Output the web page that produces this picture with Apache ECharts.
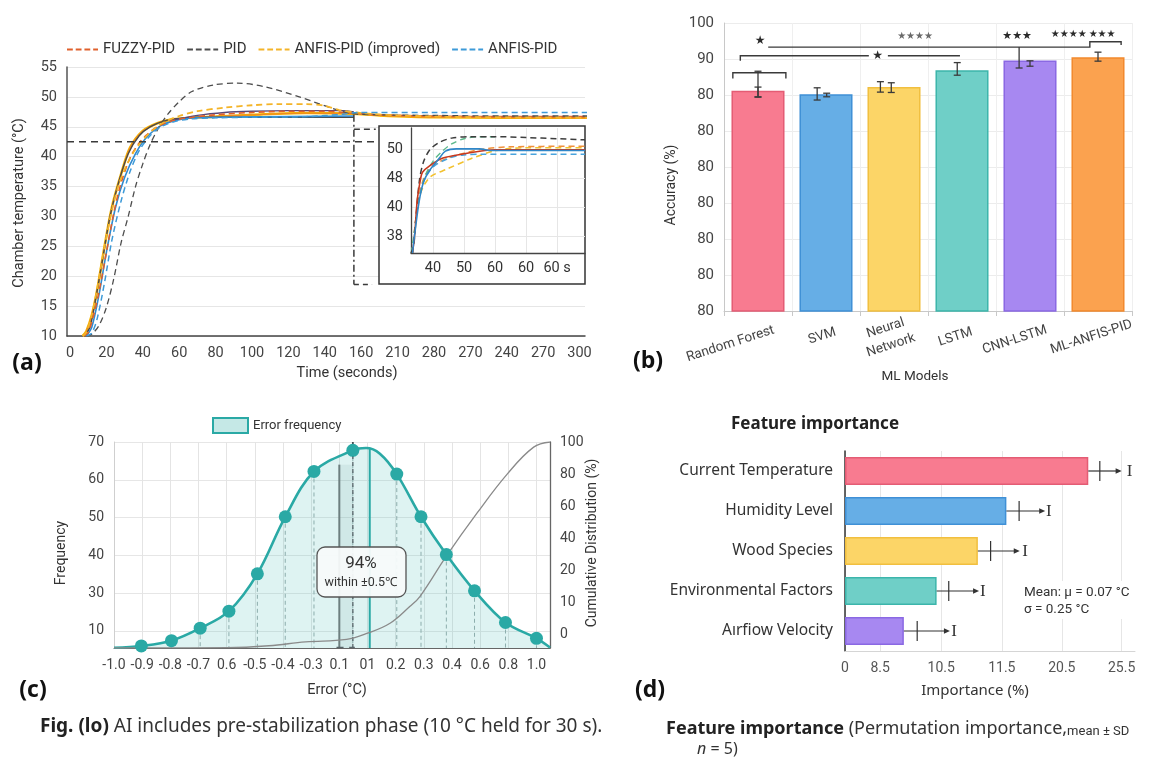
<!DOCTYPE html>
<html>
<head>
<meta charset="utf-8">
<script src="https://cdn.jsdelivr.net/npm/echarts@6/dist/echarts.min.js"></script>
<style>
  html, body { margin: 0; padding: 0; background: #fff; }
  #main { width: 1154px; height: 763px; }
</style>
</head>
<body>
<div id="main"></div>
<script>
// ---------- (a) step response ----------
const timeLabels = ['0','20','40','60','80','100','120','140','160','210','280','270','240','270','300'];
const fuzzyT = [8, 10, 13, 16, 20, 24, 28, 33, 38, 42, 48, 55, 65, 80, 100, 120, 140, 155, 170, 200, 240, 288];
const fuzzyV = [10, 10.6, 13.5, 17.5, 24, 30.5, 35.5, 39.8, 42.3, 43.6, 45, 45.9, 46.5, 47.0, 47.4, 47.6, 47.6, 47.3, 47.0, 46.8, 46.7, 46.7];
const pidT = [9, 12, 16, 20, 24, 28, 32, 36, 40, 44, 49, 54, 60, 67, 79, 92, 107, 126, 144, 155, 170, 200, 240, 288];
const pidV = [10, 10.3, 11.8, 14.8, 19.5, 25.5, 30, 35, 38.8, 42, 45, 47.2, 49.2, 50.9, 52, 52.3, 51.7, 50, 48.1, 47.2, 47.0, 46.9, 46.8, 46.8];
const anfisImpT = [7, 9, 12, 15, 19, 23, 27, 31, 35, 40, 46, 52, 60, 70, 85, 100, 115, 130, 140, 148, 160, 180, 220, 288];
const anfisImpV = [10, 10.6, 13.5, 18, 25, 31, 35.5, 38.5, 40.8, 42.8, 44.6, 45.8, 46.8, 47.6, 48.2, 48.6, 48.8, 48.8, 48.5, 47.8, 47.3, 46.9, 46.6, 46.5];
const anfisT = [9, 12, 15, 19, 23, 28, 33, 38, 44, 50, 58, 66, 80, 100, 130, 150, 158, 200, 288];
const anfisV = [10, 10.5, 13, 19, 26, 32.5, 37.5, 41, 43.5, 45, 45.9, 46.3, 46.5, 46.6, 46.7, 47.1, 47.4, 47.4, 47.4];
const goldT = [7, 9, 12, 15, 19, 23, 28, 33, 40, 48, 56, 66, 80, 100, 130, 155, 170, 200, 288];
const goldV = [10, 10.8, 13.5, 17.8, 25, 31.5, 37, 41.5, 44.3, 45.6, 46.2, 46.5, 46.7, 47.0, 47.3, 47.2, 46.9, 46.6, 46.5];
const darkT = [8, 11, 14, 18, 22, 27, 32, 38, 44, 52, 60, 70, 156];
const darkV = [10, 11.5, 16, 23, 30, 36, 40.5, 43.5, 45, 46, 46.4, 46.6, 46.6];
const blueT = [9, 12, 16, 20, 25, 30, 36, 42, 50, 60, 70, 90, 120, 156];
const blueV = [10, 11.5, 17, 24, 31.5, 36.5, 40.5, 43.2, 45.2, 46.2, 46.5, 46.6, 46.7, 46.8];
const purpleT = [55, 70, 85, 100, 120, 150, 156];
const purpleV = [46.0, 46.9, 47.4, 47.6, 47.7, 47.7, 47.5];
const setpoint = 42.5;
const zoomT = 156;

// inset (zoomed settling)
const insetXLabels = ['40', '50', '60', '60', '60 s'];
const insetYLabels = ['38', '40', '48', '50'];
const inPidX = [-0.71, -0.62, -0.55, -0.43, -0.3, -0.1, 0.2, 0.6, 1.2, 2.0, 3.0, 4.0, 4.9];
const inPidY = [-0.57, -0.3, 0.67, 2.0, 2.6, 3.0, 3.25, 3.4, 3.45, 3.45, 3.42, 3.38, 3.34];
const inGreenX = [-0.7, -0.6, -0.45, -0.25, 0, 0.3, 0.6, 1.0, 1.5, 2.0];
const inGreenY = [-0.57, 0.2, 1.3, 2.1, 2.6, 2.95, 3.2, 3.38, 3.45, 3.45];
const inRedX = [-0.66, -0.58, -0.51, -0.4, -0.34, -0.1, 0.32, 0.96, 2.0, 4.9];
const inRedY = [-0.57, 0.2, 1.24, 2.0, 2.22, 2.45, 2.71, 2.85, 3.0, 3.0];
const inBlueX = [-0.66, -0.6, -0.45, -0.3, -0.1, 0.2, 0.4, 0.75, 1.5, 1.9, 4.9];
const inBlueY = [-0.57, 0.0, 1.2, 1.9, 2.3, 2.7, 2.95, 3.03, 3.03, 2.97, 2.97];
const inYellowX = [-0.66, -0.55, -0.4, -0.1, 0.45, 1.2, 2.03, 3.0, 4.9];
const inYellowY = [-0.57, 0.6, 1.5, 2.05, 2.33, 2.68, 2.97, 3.07, 3.07];
const inBlueDashX = [-0.66, -0.5, -0.3, 0, 0.5, 1.0, 1.6, 4.9];
const inBlueDashY = [-0.57, 1.0, 1.9, 2.4, 2.7, 2.82, 2.84, 2.84];
const inOrangeX = [-0.66, -0.5, -0.3, 0, 0.5, 1.0, 1.6, 2.5, 4.9];
const inOrangeY = [-0.57, 1.1, 2.0, 2.45, 2.72, 2.88, 3.02, 3.1, 3.12];

// ---------- (b) model accuracy ----------
const models = ['Random Forest', 'SVM', 'Neural\nNetwork', 'LSTM', 'CNN-LSTM', 'ML-ANFIS-PID'];
const accuracy = [81.2, 80.2, 82.2, 86.9, 89.6, 90.5];
const accTickLabels = ['80', '80', '80', '80', '80', '80', '80', '90', '100'];
// [x position, low, high, top cap]
const accErr = [[0, 79.4, 86.6, 1], [0, 79.5, 82.2, 1], [0.87, 78.6, 82.0, 1], [1.01, 79.5, 80.5, 1],
  [1.8, 80.8, 83.7, 1], [1.96, 80.7, 83.4, 1], [2.93, 85.5, 89.0, 1], [3.84, 87.5, 93.3, 0],
  [4.0, 88.0, 89.5, 1], [5.0, 89.4, 91.9, 1]];
const sigBrackets = [
  [[-0.37, 84.6], [-0.37, 86.2], [0.41, 86.2], [0.41, 84.6]],
  [[-0.26, 89.5], [-0.26, 90.9], [1.63, 90.9]],
  [[1.91, 90.9], [2.97, 90.9]],
  [[0.15, 93.3], [4.88, 93.3], [4.88, 94.8], [5.34, 94.8], [5.34, 93.9]]
];
const sigStars = [[0.03, 95.0, '★', 12], [1.76, 90.9, '★', 12], [2.31, 96.3, '★★★★', 10],
  [3.81, 96.3, '★★★', 11], [4.57, 96.8, '★★★★', 10], [5.06, 96.8, '★★★', 10]];

// ---------- (c) error distribution ----------
const errLabels = ['-1.0','-0.9','-0.8','-0.7','0.6','-0.5','-0.4','-0.3','0.1','01','0.2','0.3','0.4','0.6','0.8','1.0'];
const freqLabels = ['10', '30', '40', '50', '60', '70'];
const cumLabels = ['0', '10', '20', '40', '60', '80', '100'];
const markerX = [0.97, 2.04, 3.06, 4.08, 5.09, 6.08, 7.1, 8.48, 10.04, 10.9, 11.8, 12.8, 13.9, 15.0];
const markerY = [16.0, 17.4, 20.7, 25.2, 35.1, 50.2, 62.2, 67.8, 61.5, 50.2, 40.2, 30.6, 22.2, 18.0];
const curveX = [0, 0.97, 2.04, 3.06, 4.08, 5.09, 6.08, 7.1, 8.48, 8.95, 9.44, 10.04, 10.9, 11.8, 12.8, 13.9, 15.0, 15.48];
const curveY = [15.5, 16.0, 17.4, 20.7, 25.2, 35.1, 50.2, 62.2, 67.8, 68.4, 66.9, 61.5, 50.2, 40.2, 30.6, 22.2, 18.0, 15.6];
const cumX = [0, 4, 5.5, 6.8, 8.26, 9.0, 9.8, 10.5, 10.86, 11.8, 12.9, 13.96, 14.9, 15.48];
const cumY = [-0.41, -0.4, -0.34, -0.22, -0.14, 0.05, 0.36, 0.88, 1.19, 2.45, 3.8, 5.0, 5.84, 6.0];

// ---------- (d) feature importance ----------
const features = ['Current Temperature', 'Humidity Level', 'Wood Species', 'Environmental Factors', 'Aırfiow Velocity'];
const importance = [4.01, 2.66, 2.19, 1.51, 0.97];
const impTick = [4.2, 2.87, 2.40, 1.71, 1.19];
const impArrow = [4.56, 3.30, 2.88, 2.21, 1.73];
const impCap = [4.69, 3.36, 2.97, 2.27, 1.80];
const impTickPos = [0, 0.58, 1.585, 2.585, 3.574, 4.56];
const impTickLabels = ['0', '8.5', '10.5', '11.5', '20.5', '25.5'];

const fills = ['#f87b90', '#66aee6', '#fcd567', '#6fcfc7', '#a788f1', '#fba24f'];
const borders = ['#e45c74', '#3f90d6', '#f1bf3f', '#3cb5ab', '#8a68e3', '#f2892d'];
// how far each rotated model label sits left of its bar (padding, px)
const modelLabelPad = [58, 8, 12, 14, 32, 14];

const FONT = 'Roboto, "Noto Sans", sans-serif';
const FONT2 = '"Noto Sans", "Open Sans", sans-serif';
const DASH_ICON = 'path://M0,0h6v2h-6zM9,0h6v2h-6zM18,0h6v2h-6zM27,0h5v2h-5z';

const zip = (xs, ys) => xs.map((x, i) => [x, ys[i]]);

const myChart = echarts.init(document.getElementById('main'));

const series = [];

function curve(name, t, v, color, dashed, width, xi, yi, z) {
  series.push({
    name: name, type: 'line', xAxisIndex: xi, yAxisIndex: yi, data: zip(t, v),
    smooth: 0.3, symbol: 'none', z: z || 2, silent: true,
    itemStyle: { color: color },
    lineStyle: { color: color, width: width, type: dashed ? [6, 4] : 'solid' }
  });
}

// main response curves
curve('gold', goldT, goldV, '#f5b800', false, 2.6, 0, 0);
curve('orangeSolid', goldT, goldV, '#f08a20', false, 1.2, 0, 0);
curve('dark', darkT, darkV, '#4a4a4a', false, 1.4, 0, 0);
curve('blueSolid', blueT, blueV, '#2f8ad0', false, 1.6, 0, 0);
curve('purple', purpleT, purpleV, '#5b4a78', false, 1.4, 0, 0);
curve('FUZZY-PID', fuzzyT, fuzzyV, '#e0602c', true, 1.6, 0, 0, 3);
curve('PID', pidT, pidV, '#4d4d4d', true, 1.3, 0, 0, 3);
curve('ANFIS-PID (improved)', anfisImpT, anfisImpV, '#f4b428', true, 1.8, 0, 0, 3);
curve('ANFIS-PID', anfisT, anfisV, '#3d9ad8', true, 1.5, 0, 0, 3);

// guide lines towards the inset
const guide = (pts, type) => series.push({
  type: 'line', xAxisIndex: 0, yAxisIndex: 0, data: pts, symbol: 'none', silent: true, z: 3,
  lineStyle: { color: '#3a3a3a', width: 1.5, type: type }
});
guide([[-1.65, setpoint], [169, setpoint]], [7, 5]);
guide([[zoomT, 47], [zoomT, 18.6]], [7, 3, 2, 3]);
guide([[zoomT, 44.6], [168, 44.6]], [6, 4]);
guide([[zoomT, 18.6], [166, 18.6]], [5, 4]);

// inset curves
curve('in1', inYellowX, inYellowY, '#f2c12e', true, 1.6, 1, 1, 5);
curve('in2', inOrangeX, inOrangeY, '#f0903a', true, 1.5, 1, 1, 5);
curve('in3', inBlueDashX, inBlueDashY, '#4aa3dc', true, 1.5, 1, 1, 5);
curve('in4', inGreenX, inGreenY, '#5cb88a', true, 1.4, 1, 1, 5);
curve('in5', inPidX, inPidY, '#3d3d3d', true, 1.5, 1, 1, 5);
curve('in6', inRedX, inRedY, '#c8381e', false, 1.6, 1, 1, 5);
curve('in7', inBlueX, inBlueY, '#2f86c8', false, 1.6, 1, 1, 5);

// ---------- (b) ----------
series.push({
  type: 'bar', xAxisIndex: 2, yAxisIndex: 2, barWidth: '78%', silent: true,
  data: accuracy.map((v, i) => ({ value: v, itemStyle: { color: fills[i], borderColor: borders[i], borderWidth: 1.5 } }))
});
series.push({
  type: 'custom', xAxisIndex: 3, yAxisIndex: 2, z: 5, silent: true,
  data: accErr,
  renderItem: (p, api) => {
    const a = api.coord([api.value(0), api.value(1)]);
    const b = api.coord([api.value(0), api.value(2)]);
    const st = { stroke: '#3a3a3a', lineWidth: 1.3 };
    const ch = [
      { type: 'line', shape: { x1: a[0], y1: a[1], x2: b[0], y2: b[1] }, style: st },
      { type: 'line', shape: { x1: a[0] - 3.5, y1: a[1], x2: a[0] + 3.5, y2: a[1] }, style: st }
    ];
    if (api.value(3)) ch.push({ type: 'line', shape: { x1: b[0] - 3.5, y1: b[1], x2: b[0] + 3.5, y2: b[1] }, style: st });
    return { type: 'group', children: ch };
  }
});
series.push({
  type: 'custom', xAxisIndex: 3, yAxisIndex: 2, z: 5, silent: true,
  data: sigBrackets.map(b => b[0]),
  renderItem: (p, api) => ({
    type: 'polyline',
    shape: { points: sigBrackets[p.dataIndex].map(pt => api.coord(pt)) },
    style: { stroke: '#3a3a3a', lineWidth: 1.4, fill: 'none' }
  })
});
series.push({
  type: 'custom', xAxisIndex: 3, yAxisIndex: 2, z: 6, silent: true,
  data: sigStars.map(s => [s[0], s[1]]),
  renderItem: (p, api) => {
    const s = sigStars[p.dataIndex];
    const c = api.coord([s[0], s[1]]);
    return {
      type: 'text', x: c[0], y: c[1],
      style: { text: s[2], fontSize: s[3], fontFamily: '"DejaVu Sans"', fill: p.dataIndex === 2 ? '#6a6a6a' : '#2a2a2a', align: 'center', verticalAlign: 'middle' }
    };
  }
});

// ---------- (c) ----------
series.push({
  name: 'Error frequency', type: 'line', xAxisIndex: 4, yAxisIndex: 3, data: zip(curveX, curveY),
  smooth: 0.35, symbol: 'none', z: 3, silent: true,
  itemStyle: { color: '#2aa9a5' },
  lineStyle: { color: '#2aa9a5', width: 2.6 },
  areaStyle: { color: 'rgba(86,194,189,0.28)' }
});
series.push({
  type: 'custom', xAxisIndex: 4, yAxisIndex: 3, z: 2, silent: true,
  data: zip(markerX, markerY),
  renderItem: (p, api) => {
    const a = api.coord([api.value(0), api.value(1)]);
    const b = api.coord([api.value(0), 15.45]);
    return { type: 'line', shape: { x1: a[0], y1: a[1], x2: b[0], y2: b[1] }, style: { stroke: '#9aa9a9', lineWidth: 1, lineDash: [4, 3] } };
  }
});
series.push({
  type: 'custom', xAxisIndex: 4, yAxisIndex: 3, z: 2, silent: true,
  data: [[8.0, 64]],
  renderItem: (p, api) => {
    const a = api.coord([8.0, 64]);
    const b = api.coord([8.48, 15.45]);
    return { type: 'rect', shape: { x: a[0], y: a[1], width: b[0] - a[0], height: b[1] - a[1] }, style: { fill: 'rgba(40,90,90,0.08)' } };
  }
});
const vline = (pts, color, width, type) => series.push({
  type: 'line', xAxisIndex: 4, yAxisIndex: 3, data: pts, symbol: 'none', silent: true, z: 4,
  lineStyle: { color: color, width: width, type: type }
});
vline([[8.0, 15.45], [8.0, 64]], '#6d7f7f', 2, 'solid');
vline([[8.48, 15.45], [8.48, 66]], '#58656a', 1.3, [4, 3]);
vline([[8.48, 66], [8.48, 70]], '#3f4a4e', 1.8, 'solid');
vline([[9.08, 15.45], [9.08, 68.2]], '#2aa9a5', 2, 'solid');
vline([[7.9, 15.6], [8.15, 15.6]], '#58656a', 1.3, 'solid');
vline([[8.35, 15.6], [8.55, 15.6]], '#58656a', 1.3, 'solid');
series.push({
  type: 'line', xAxisIndex: 4, yAxisIndex: 4, data: zip(cumX, cumY), smooth: 0.4, symbol: 'none', z: 4, silent: true,
  lineStyle: { color: '#8a8a8a', width: 1.3 }
});
series.push({
  type: 'scatter', xAxisIndex: 4, yAxisIndex: 3, data: zip(markerX, markerY), symbolSize: 13, z: 5, silent: true,
  itemStyle: { color: '#2aa9a5', opacity: 1 }
});

// ---------- (d) ----------
series.push({
  type: 'bar', xAxisIndex: 5, yAxisIndex: 5, barWidth: 28, silent: true,
  data: importance.map((v, i) => ({ value: v, itemStyle: { color: fills[i], borderColor: borders[i], borderWidth: 1.5 } }))
});
series.push({
  type: 'custom', xAxisIndex: 5, yAxisIndex: 5, z: 5, silent: true,
  data: importance.map((v, i) => [v, i, impTick[i], impArrow[i], impCap[i]]),
  renderItem: (p, api) => {
    const s = api.coord([api.value(0), api.value(1)]);
    const y = s[1];
    const xt = api.coord([api.value(2), api.value(1)])[0];
    const xa = api.coord([api.value(3), api.value(1)])[0];
    const xc = api.coord([api.value(4), api.value(1)])[0];
    const st = { stroke: '#333', lineWidth: 1.2 };
    return {
      type: 'group', children: [
        { type: 'line', shape: { x1: s[0], y1: y, x2: xa - 3, y2: y }, style: st },
        { type: 'line', shape: { x1: xt, y1: y - 10, x2: xt, y2: y + 10 }, style: st },
        { type: 'polygon', shape: { points: [[xa, y], [xa - 6, y - 2.8], [xa - 6, y + 2.8]] }, style: { fill: '#333' } },
        { type: 'text', x: xc, y: y + 1, style: { text: 'I', fontSize: 17, fontFamily: '"Liberation Serif", "DejaVu Serif", serif', fill: '#333', align: 'center', verticalAlign: 'middle' } }
      ]
    };
  }
});

const txt = (x, y, text, o) => Object.assign({
  type: 'text', x: x, y: y, z: 20,
  style: Object.assign({ text: text, fill: '#333', fontSize: 14, fontFamily: FONT, align: 'center', verticalAlign: 'middle' }, o || {})
});
const vtxt = (x, y, text, o) => Object.assign(txt(x, y, text, o), { rotation: Math.PI / 2 });
const tag = (x, y, t) => txt(x, y, t, { fontSize: 23, fontWeight: 'bold', fill: '#111', fontFamily: '"Open Sans", sans-serif' });

const modelRich = {};
modelLabelPad.forEach((pad, i) => {
  modelRich['m' + i] = { fontSize: 13.5, color: '#444', lineHeight: 18, padding: [0, pad, 0, 0], align: 'center' };
});

const option = {
  animation: false,
  backgroundColor: '#ffffff',
  textStyle: { fontFamily: FONT },
  legend: [{
    data: ['FUZZY-PID', 'PID', 'ANFIS-PID (improved)', 'ANFIS-PID'].map(n => ({ name: n, icon: DASH_ICON })),
    left: 67, top: 42, padding: 0, itemWidth: 31, itemHeight: 2, itemGap: 12,
    textStyle: { fontSize: 15, color: '#333', fontFamily: FONT }
  }, {
    data: [{ name: 'Error frequency', icon: 'rect' }],
    left: 212, top: 417, padding: 0, itemWidth: 35, itemHeight: 15,
    itemStyle: { color: '#c5e8e6', borderColor: '#2aa9a5', borderWidth: 2 },
    textStyle: { fontSize: 13, color: '#333', fontFamily: FONT }
  }],
  grid: [
    { left: 67, top: 67, right: 569, bottom: 427, outerBoundsMode: 'none' },
    { left: 411, top: 128, right: 569, bottom: 510, outerBoundsMode: 'none' },
    { left: 724, top: 23, right: 22, bottom: 452, outerBoundsMode: 'none' },
    { left: 114, top: 442, right: 604, bottom: 115, outerBoundsMode: 'none' },
    { left: 845, top: 451, right: 19, bottom: 112, outerBoundsMode: 'none' }
  ],
  xAxis: [
    { gridIndex: 0, type: 'value', min: -1.65, max: 283,
      axisLine: { onZero: false, lineStyle: { color: '#444', width: 1.5 } },
      axisTick: { show: false, customValues: timeLabels.map((l, i) => i * 20) },
      axisLabel: { customValues: timeLabels.map((l, i) => i * 20), formatter: v => timeLabels[Math.round(v / 20)], color: '#444', fontSize: 14.5, margin: 10 },
      splitLine: { show: false } },
    { gridIndex: 1, type: 'value', min: -0.71, max: 4.9, z: 3,
      axisLine: { onZero: false, lineStyle: { color: '#444', width: 1.3 } },
      axisTick: { show: false, customValues: [0, 1, 2, 3, 4] },
      axisLabel: { customValues: [0, 1, 2, 3, 4], formatter: v => insetXLabels[Math.round(v)], color: '#333', fontSize: 14.5, margin: 8 },
      splitLine: { show: true, lineStyle: { color: '#e6e6e6' } } },
    { gridIndex: 2, type: 'category', data: models,
      axisLine: { lineStyle: { color: '#c8c8c8' } },
      axisTick: { show: true, length: 5, lineStyle: { color: '#c8c8c8' } },
      axisLabel: { rotate: 18, interval: 0, align: 'center', verticalAlign: 'middle',
        formatter: (v, i) => v.split('\n').map(s => '{m' + i + '|' + s + '}').join('\n'),
        rich: modelRich, fontSize: 13.5, color: '#444', margin: 24, lineHeight: 18 },
      splitLine: { show: true, lineStyle: { color: '#efefef' } } },
    { gridIndex: 2, type: 'value', min: -0.5, max: 5.5, show: false },
    { gridIndex: 3, type: 'value', min: 0, max: 15.48,
      axisLine: { onZero: false, lineStyle: { color: '#666' } },
      axisTick: { show: false, customValues: errLabels.map((l, i) => i) },
      axisLabel: { customValues: errLabels.map((l, i) => i), formatter: v => errLabels[Math.round(v)], color: '#444', fontSize: 14, margin: 10 },
      splitLine: { show: true, lineStyle: { color: '#e4e4e4' } } },
    { gridIndex: 4, type: 'value', min: 0, max: 4.78,
      axisLine: { show: true, onZero: false, lineStyle: { color: '#d5d5d5' } },
      axisTick: { show: false, customValues: impTickPos },
      axisLabel: { customValues: impTickPos, formatter: v => {
        let k = 0; impTickPos.forEach((p, i) => { if (Math.abs(p - v) < Math.abs(impTickPos[k] - v)) k = i; });
        return impTickLabels[k];
      }, color: '#555', fontSize: 14, margin: 10 },
      splitLine: { show: true, lineStyle: { color: '#e6e6e6' } } }
  ],
  yAxis: [
    { gridIndex: 0, type: 'value', min: 10, max: 55, interval: 5,
      axisLine: { show: true, onZero: false, lineStyle: { color: '#555', width: 1.5 } },
      axisTick: { show: false },
      axisLabel: { color: '#444', fontSize: 14.5, margin: 10 },
      splitLine: { lineStyle: { color: '#e6e6e6' } } },
    { gridIndex: 1, type: 'value', min: -0.57, max: 3.75, z: 3,
      axisLine: { show: true, onZero: false, lineStyle: { color: '#444', width: 1.3 } },
      axisTick: { show: false, customValues: [0, 1, 2, 3] },
      axisLabel: { customValues: [0, 1, 2, 3], formatter: v => insetYLabels[Math.round(v)], color: '#333', fontSize: 14.5, margin: 8 },
      splitLine: { lineStyle: { color: '#e6e6e6' } } },
    { gridIndex: 2, type: 'value', min: 20, max: 100, interval: 10,
      axisLine: { show: true, onZero: false, lineStyle: { color: '#c8c8c8' } },
      axisTick: { show: false },
      axisLabel: { formatter: v => accTickLabels[Math.round((v - 20) / 10)], color: '#444', fontSize: 15, margin: 10 },
      splitLine: { lineStyle: { color: '#ececec' } } },
    { gridIndex: 3, type: 'value', min: 15.45, max: 70,
      axisLine: { show: true, onZero: false, lineStyle: { color: '#cfcfcf' } },
      axisTick: { show: false, customValues: [20, 30, 40, 50, 60, 70] },
      axisLabel: { customValues: [20, 30, 40, 50, 60, 70], formatter: v => freqLabels[Math.round((v - 20) / 10)], color: '#444', fontSize: 14, margin: 10 },
      splitLine: { lineStyle: { color: '#e6e6e6' } } },
    { gridIndex: 3, type: 'value', position: 'right', min: -0.41, max: 6,
      axisLine: { show: true, onZero: false, lineStyle: { color: '#666', width: 1.3 } },
      axisTick: { show: false, customValues: [0, 1, 2, 3, 4, 5, 6] },
      axisLabel: { customValues: [0, 1, 2, 3, 4, 5, 6], formatter: v => cumLabels[Math.round(v)], color: '#444', fontSize: 14, margin: 10 },
      splitLine: { show: false } },
    { gridIndex: 4, type: 'category', inverse: true, data: features,
      axisLine: { onZero: false, lineStyle: { color: '#333', width: 1.5 } },
      axisTick: { show: false },
      axisLabel: { fontSize: 15.5, color: '#333', margin: 12, fontFamily: FONT2 },
      splitLine: { show: false } }
  ],
  series: series,
  graphic: [
    // inset frame
    { type: 'rect', z: 1, shape: { x: 379, y: 126, width: 206, height: 158 }, style: { fill: '#ffffff', stroke: '#333', lineWidth: 1.5 } },
    // (a)
    vtxt(19, 203, 'Chamber temperature (°C)', { fontSize: 14.5 }),
    txt(347, 373, 'Time (seconds)', { fontSize: 14.5 }),
    tag(27, 363, '(a)'),
    // (b)
    vtxt(671, 185, 'Accuracy (%)', { fontSize: 14 }),
    txt(915, 377, 'ML Models', { fontSize: 13.5 }),
    tag(648, 361, '(b)'),
    // (c)
    vtxt(61, 553, 'Frequency', { fontSize: 14 }),
    vtxt(592, 543, 'Cumulative Distribution (%)', { fontSize: 14 }),
    txt(337, 690, 'Error (°C)', { fontSize: 14.5 }),
    tag(33, 690, '(c)'),
    { type: 'rect', z: 30, shape: { x: 317, y: 547, width: 89, height: 50, r: 8 }, style: { fill: 'rgba(247,250,250,0.95)', stroke: '#555', lineWidth: 1.3 } },
    Object.assign(txt(361, 564, '94%', { fontSize: 17 }), { z: 31 }),
    Object.assign(txt(361, 583, 'within ±0.5℃', { fontSize: 12.5 }), { z: 31 }),
    txt(40, 727, '{b|Fig. (lo)} AI includes pre-stabilization phase (10 °C held for 30 s).', {
      align: 'left', fontSize: 19, fontFamily: FONT2, fill: '#333',
      rich: { b: { fontSize: 19, fontWeight: 'bold', fontFamily: FONT2, fill: '#222' } }
    }),
    // (d)
    txt(815, 424, 'Feature importance', { fontSize: 17, fontWeight: 'bold', fontFamily: FONT2, fill: '#222' }),
    txt(975, 691, 'Importance (%)', { fontSize: 15, fontFamily: FONT2 }),
    tag(650, 690, '(d)'),
    { type: 'rect', z: 19, shape: { x: 1012, y: 581, width: 126, height: 38 }, style: { fill: '#ffffff' } },
    txt(1024, 593, 'Mean: μ = 0.07 °C', { align: 'left', fontSize: 13.5 }),
    txt(1024, 610, 'σ = 0.25 °C', { align: 'left', fontSize: 13.5 }),
    txt(666, 729, '{b|Feature importance} (Permutation importance,{s|mean ± SD}', {
      align: 'left', fontSize: 18, fontFamily: FONT2, fill: '#333',
      rich: { b: { fontSize: 18, fontWeight: 'bold', fontFamily: FONT2, fill: '#222' },
              s: { fontSize: 13, fontFamily: FONT, fill: '#333', verticalAlign: 'bottom', padding: [6, 0, 0, 0] } }
    }),
    txt(697, 749, '{i|n} = 5)', {
      align: 'left', fontSize: 16, fontFamily: FONT2, fill: '#333',
      rich: { i: { fontSize: 16, fontStyle: 'italic', fontFamily: FONT2, fill: '#333' } }
    })
  ]
};

option && myChart.setOption(option);
</script>
</body>
</html>
